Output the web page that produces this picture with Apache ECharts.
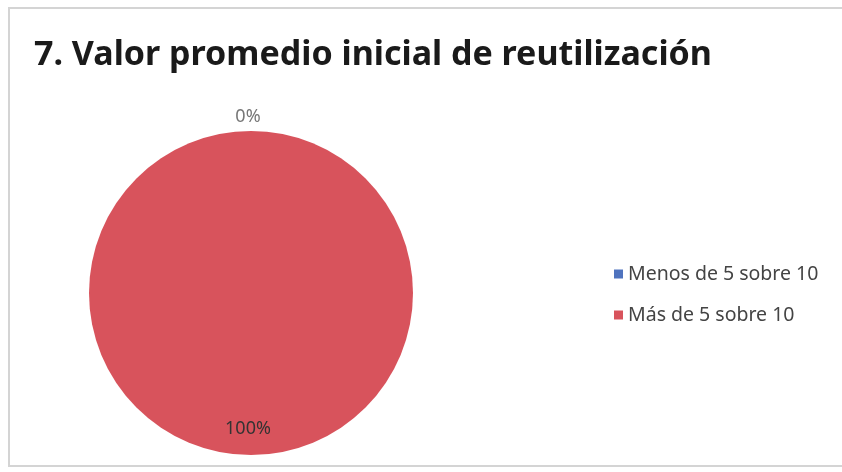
<!DOCTYPE html>
<html>
<head>
<meta charset="utf-8">
<script src="https://cdn.jsdelivr.net/npm/echarts@6/dist/echarts.min.js"></script>
<style>
  html, body { margin: 0; padding: 0; background: #fff; }
</style>
</head>
<body>
<div id="main" style="width:842px;height:472px;"></div>
<script>
  // datos
  var titleText = '7. Valor promedio inicial de reutilización';
  var categories = ['Menos de 5 sobre 10', 'Más de 5 sobre 10'];
  var values = [0, 100];
  var colors = ['#4F73BE', '#D8535C'];
  // desplazamiento de cada etiqueta (px)
  var labelOffsets = [[-3, -92], [-3, 52]];

  var myChart = echarts.init(document.getElementById('main'));

  var pieData = [];
  for (var i = 0; i < categories.length; i++) {
    pieData.push({
      name: categories[i],
      value: values[i],
      itemStyle: { color: colors[i] },
      label: {
        offset: labelOffsets[i],
        color: i === 0 ? '#777' : '#333'
      }
    });
  }

  var option = {
    backgroundColor: '#fff',
    title: {
      text: titleText,
      left: 29,
      top: 33,
      textStyle: {
        fontFamily: '"Noto Sans", sans-serif',
        fontWeight: 'bold',
        fontSize: 34,
        color: '#1a1a1a'
      }
    },
    legend: {
      orient: 'vertical',
      left: 609,
      top: 259,
      itemWidth: 9,
      itemHeight: 9,
      itemGap: 21,
      icon: 'rect',
      data: categories,
      textStyle: {
        fontFamily: '"Noto Sans", sans-serif',
        fontSize: 19.5,
        color: '#444'
      }
    },
    graphic: [{
      type: 'rect',
      shape: { x: 9, y: 8, width: 900, height: 458 },
      style: { fill: 'none', stroke: '#d4d4d4', lineWidth: 2 },
      silent: true,
      z: -1
    }],
    series: [{
      type: 'pie',
      center: [251, 293],
      radius: 162,
      startAngle: 90,
      clockwise: true,
      avoidLabelOverlap: false,
      stillShowZeroSum: true,
      label: {
        show: true,
        position: 'inside',
        formatter: '{d}%',
        fontFamily: '"Noto Sans", sans-serif',
        fontSize: 18
      },
      labelLine: { show: false },
      itemStyle: { borderWidth: 0 },
      emphasis: { disabled: true },
      data: pieData
    }]
  };

  myChart.setOption(option);
</script>
</body>
</html>
